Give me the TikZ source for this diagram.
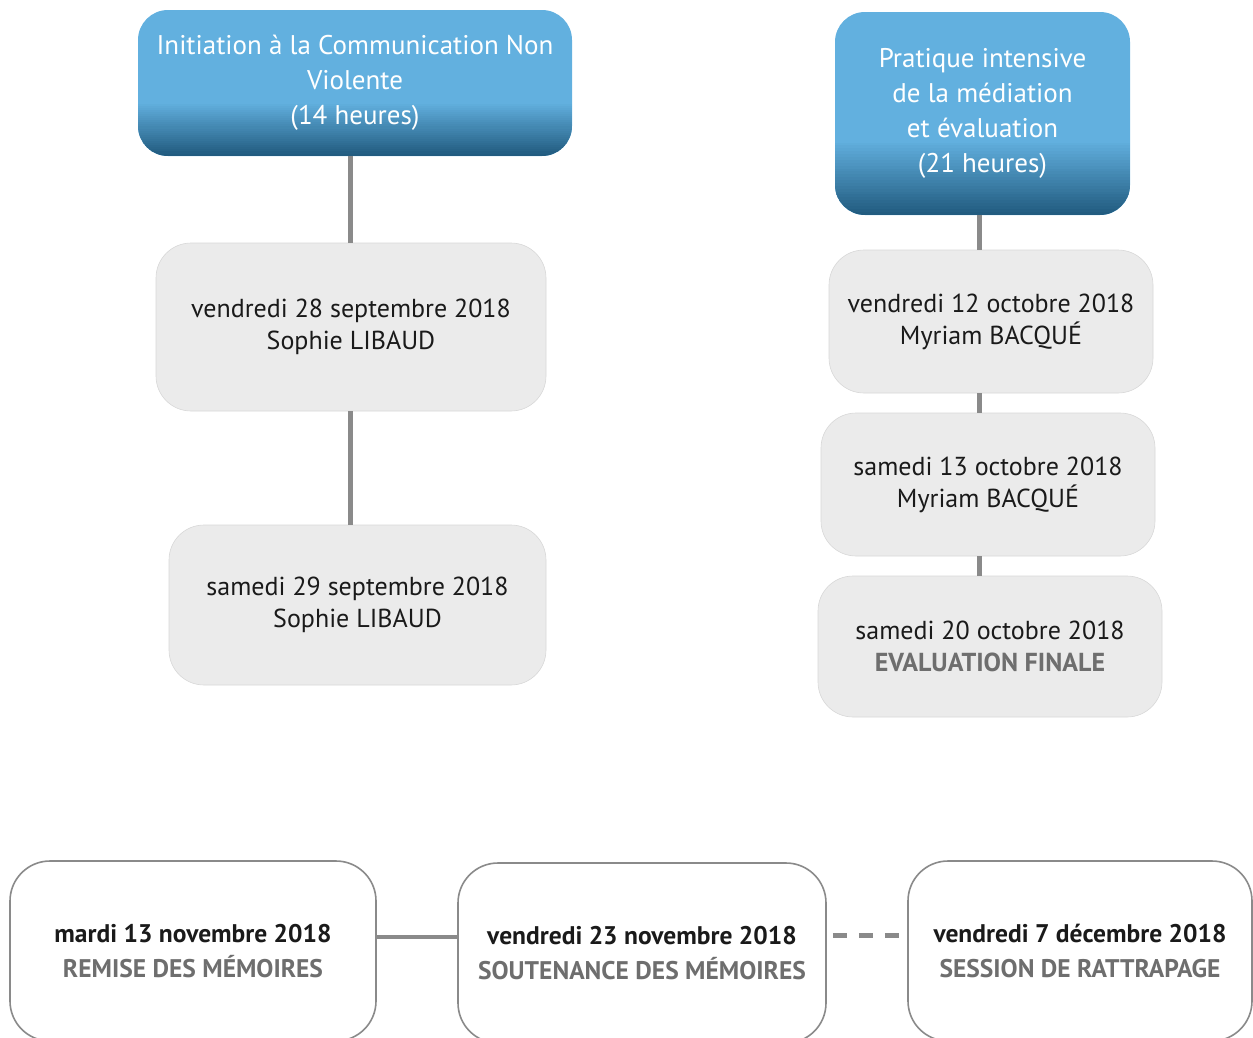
\documentclass[tikz,border=0pt]{standalone}
\usepackage{fontspec}
\setmainfont{PT Sans}
\definecolor{hblue}{HTML}{62B0DF}
\definecolor{hdark}{HTML}{225C80}
\definecolor{boxgray}{HTML}{EBEBEB}
\definecolor{linegray}{HTML}{8A8A8A}
\definecolor{capgray}{HTML}{6E6E6E}
\definecolor{txt}{HTML}{1A1A1A}
\begin{document}
\begin{tikzpicture}[x=1pt,y=-1pt,
  header/.style={rounded corners=30pt, fill=hblue, text=white, align=center,
    font=\fontsize{27}{35}\selectfont, inner sep=0pt,
    path picture={\foreach \i in {1,...,25}{
      \pgfmathsetmacro\ya{#1*(1-(\i-1)/25)+0.4}
      \pgfmathsetmacro\yb{#1*(1-\i/25)}
      \pgfmathtruncatemacro\pc{\i*4}
      \fill[sharp corners, hdark!\pc!hblue]
        ([yshift=\ya pt]path picture bounding box.south west) rectangle
        ([yshift=\yb pt]path picture bounding box.south east);}}},
  graybox/.style={rounded corners=35pt, fill=boxgray, draw=boxgray!92!black, line width=0.6pt, text=txt, align=center,
    font=\fontsize{26}{32}\selectfont, inner sep=0pt},
  whitebox/.style={rounded corners=40pt, fill=white, draw=linegray, line width=1.6pt, text=txt, align=center,
    font=\fontsize{25.5}{35}\selectfont\bfseries, inner sep=0pt},
  conn/.style={draw=linegray, line width=5pt}
]
\useasboundingbox (0,0) rectangle (1253,1037);
\clip (0,0) rectangle (1253,1037);

% headers
\node[header=52, minimum width=434pt, minimum height=146pt] (h1) at (355,83)
  {Initiation à la Communication Non\\Violente\\(14 heures)};
\node[header=72, minimum width=295pt, minimum height=203pt] (h2) at (982.5,113.5)
  {Pratique intensive\\de la médiation\\et évaluation\\(21 heures)};

% left column
\node[graybox, minimum width=390pt, minimum height=168pt] (l1) at (351,327)
  {vendredi 28 septembre 2018\\Sophie LIBAUD};
\node[graybox, minimum width=377pt, minimum height=160pt] (l2) at (357.5,605)
  {samedi 29 septembre 2018\\Sophie LIBAUD};

% right column
\node[graybox, minimum width=324pt, minimum height=143pt] (r1) at (991,321.5)
  {vendredi 12 octobre 2018\\Myriam BACQUÉ};
\node[graybox, minimum width=334pt, minimum height=143pt] (r2) at (988,484.5)
  {samedi 13 octobre 2018\\Myriam BACQUÉ};
\node[graybox, minimum width=344pt, minimum height=141pt] (r3) at (990,646.5)
  {samedi 20 octobre 2018\\{\bfseries\color{capgray}EVALUATION FINALE}};

% bottom row
\node[whitebox, minimum width=366pt, minimum height=180pt] (b1) at (193,951)
  {mardi 13 novembre 2018\\{\color{capgray}REMISE DES MÉMOIRES}};
\node[whitebox, minimum width=368pt, minimum height=180pt] (b2) at (642,953)
  {vendredi 23 novembre 2018\\{\color{capgray}SOUTENANCE DES MÉMOIRES}};
\node[whitebox, minimum width=344pt, minimum height=180pt] (b3) at (1080,951)
  {vendredi 7 décembre 2018\\{\color{capgray}SESSION DE RATTRAPAGE}};

% connectors
\coordinate (lx) at (350,0);
\coordinate (rx) at (979,0);
\coordinate (by) at (0,937);
\coordinate (dy) at (0,935);
\draw[conn] (lx |- h1.south) -- (lx |- l1.north);
\draw[conn] (lx |- l1.south) -- (lx |- l2.north);
\draw[conn] (rx |- h2.south) -- (rx |- r1.north);
\draw[conn] (rx |- r1.south) -- (rx |- r2.north);
\draw[conn] (rx |- r2.south) -- (rx |- r3.north);
\draw[conn, line width=4pt] (by -| b1.east) -- (by -| b2.west);
\draw[conn, line width=5pt, dash pattern=on 14pt off 12pt] (dy -| b2.east) ++(6,0) -- (dy -| b3.west);
\end{tikzpicture}
\end{document}
